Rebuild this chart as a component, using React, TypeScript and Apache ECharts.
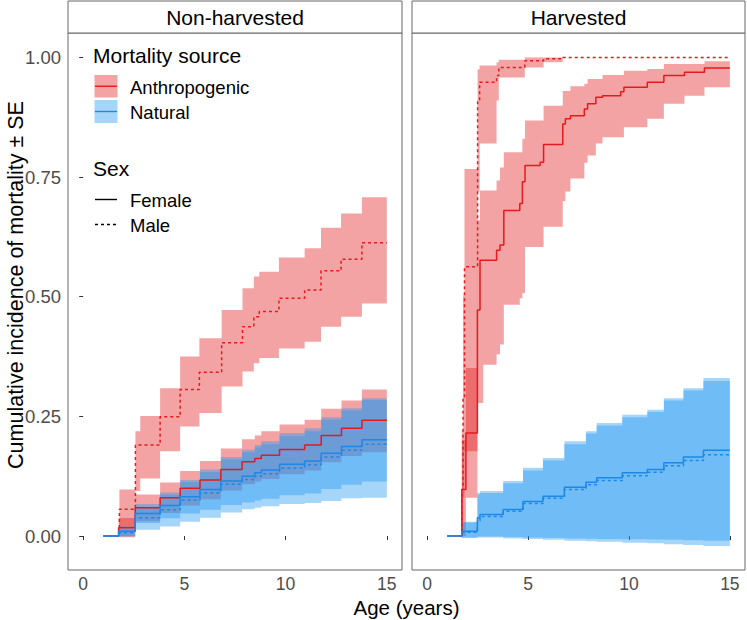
import React, { useEffect, useRef } from "react";
import * as echarts from "echarts";

// ---------- labels ----------
const panelNames = ["Non-harvested", "Harvested"];
const xTicks = [0, 5, 10, 15];
const yTicks = [0, 0.25, 0.5, 0.75, 1.0];
const xTitle = "Age (years)";
const yTitle = "Cumulative incidence of mortality ± SE";
const sourceTitle = "Mortality source";
const sourceNames = ["Anthropogenic", "Natural"];
const sexTitle = "Sex";
const sexNames = ["Female", "Male"];

// ---------- Non-harvested ----------
const nhAnthF_t = [1.0, 1.75, 2.57, 3.8, 4.79, 5.77, 6.8, 7.85, 8.48, 8.8, 9.7, 10.94, 11.76, 12.76, 13.77, 15.0];
const nhAnthF_est = [0, 0.0175, 0.059, 0.08, 0.1, 0.117, 0.139, 0.155, 0.162, 0.169, 0.181, 0.19, 0.21, 0.225, 0.242, 0.242];
const nhAnthF_lo = [0, -0.0025, 0.031, 0.048, 0.064, 0.077, 0.095, 0.108, 0.114, 0.119, 0.129, 0.137, 0.154, 0.167, 0.175, 0.175];
const nhAnthF_hi = [0, 0.0375, 0.087, 0.112, 0.136, 0.157, 0.183, 0.202, 0.21, 0.219, 0.233, 0.243, 0.266, 0.283, 0.306, 0.306];

const nhAnthM_t = [1.0, 1.79, 2.58, 2.82, 3.8, 4.79, 5.74, 6.84, 7.87, 8.43, 8.7, 9.67, 10.94, 11.75, 12.74, 13.77, 15.0];
const nhAnthM_est = [0, 0.056, 0.19, 0.19, 0.249, 0.306, 0.342, 0.404, 0.4375, 0.458, 0.469, 0.497, 0.514, 0.554, 0.5785, 0.613, 0.613];
const nhAnthM_lo = [0, 0.018, 0.094, 0.12, 0.177, 0.229, 0.257, 0.3125, 0.344, 0.361, 0.372, 0.392, 0.406, 0.4375, 0.458, 0.486, 0.486];
const nhAnthM_hi = [0, 0.097, 0.219, 0.251, 0.309, 0.375, 0.413, 0.472, 0.5175, 0.542, 0.552, 0.582, 0.601, 0.644, 0.674, 0.708, 0.708];

const nhNatF_t = [1.0, 1.75, 2.57, 3.8, 4.79, 5.77, 6.8, 7.85, 8.48, 8.8, 9.7, 10.94, 11.76, 12.76, 13.77, 15.0];
const nhNatF_est = [0, 0.01, 0.047, 0.064, 0.082, 0.097, 0.115, 0.125, 0.132, 0.138, 0.15, 0.157, 0.173, 0.187, 0.201, 0.201];
const nhNatF_lo = [0, 0.0, 0.027, 0.037, 0.047, 0.055, 0.065, 0.07, 0.074, 0.078, 0.085, 0.089, 0.098, 0.107, 0.114, 0.114];
const nhNatF_hi = [0, 0.02, 0.067, 0.091, 0.117, 0.139, 0.165, 0.18, 0.19, 0.198, 0.215, 0.225, 0.248, 0.267, 0.288, 0.288];

const nhNatM_t = [1.0, 1.75, 2.57, 3.8, 4.79, 5.77, 6.8, 7.85, 8.48, 8.8, 9.7, 10.94, 11.76, 12.76, 13.77, 15.0];
const nhNatM_est = [0, 0.007, 0.038, 0.055, 0.075, 0.09, 0.108, 0.118, 0.125, 0.13, 0.142, 0.149, 0.165, 0.179, 0.192, 0.192];
const nhNatM_lo = [0, -0.001, 0.013, 0.02, 0.03, 0.038, 0.049, 0.056, 0.059, 0.062, 0.067, 0.069, 0.073, 0.079, 0.08, 0.08];
const nhNatM_hi = [0, 0.015, 0.061, 0.086, 0.113, 0.134, 0.16, 0.175, 0.185, 0.192, 0.209, 0.219, 0.243, 0.262, 0.284, 0.284];

// ---------- Harvested ----------
const hAnthF_t = [1.0, 1.72, 1.92, 2.49, 2.62, 2.78, 3.44, 3.61, 3.8, 4.59, 4.72, 4.85, 5.6, 5.77, 6.72, 6.85, 7.1, 7.79, 7.95, 8.36, 8.69, 9.59, 9.75, 10.91, 11.73, 12.75, 13.74, 15.0];
const hAnthF_est = [0, 0.097, 0.215, 0.472, 0.576, 0.576, 0.597, 0.608, 0.68, 0.695, 0.74, 0.774, 0.781, 0.818, 0.861, 0.872, 0.878, 0.892, 0.903, 0.917, 0.92, 0.928, 0.9375, 0.948, 0.962, 0.969, 0.978, 0.978];
const hAnthF_lo = [0, 0.0, 0.08, 0.278, 0.278, 0.358, 0.38, 0.4, 0.483, 0.497, 0.508, 0.604, 0.604, 0.646, 0.7, 0.72, 0.747, 0.78, 0.795, 0.82, 0.833, 0.833, 0.854, 0.872, 0.903, 0.92, 0.9375, 0.9375];
const hAnthF_hi = [0, 0.2, 0.351, 0.66, 0.722, 0.722, 0.743, 0.77, 0.802, 0.802, 0.83, 0.868, 0.868, 0.899, 0.93, 0.93, 0.94, 0.945, 0.955, 0.955, 0.963, 0.963, 0.972, 0.976, 0.986, 0.986, 0.992, 0.992];

const hAnthM_t = [1.0, 1.72, 1.78, 1.85, 2.5, 2.6, 3.44, 3.55, 4.84, 5.77, 6.72, 15.0];
const hAnthM_est = [0, 0.097, 0.29, 0.5625, 0.91, 0.948, 0.962, 0.979, 0.993, 0.997, 1.0, 1.0];
const hAnthM_lo = [0, 0.0, 0.08, 0.177, 0.72, 0.82, 0.91, 0.958, 0.979, 0.99, 1.0, 1.0];
const hAnthM_hi = [0, 0.22, 0.503, 0.767, 0.975, 0.983, 0.99, 0.995, 1.0, 1.0, 1.0, 1.0];

const hNatF_t = [1.0, 1.72, 2.49, 2.62, 3.77, 4.75, 5.74, 6.8, 7.87, 8.4, 9.67, 10.91, 11.73, 12.7, 13.69, 15.0];
const hNatF_est = [0, 0.01, 0.038, 0.045, 0.0556, 0.072, 0.083, 0.102, 0.1125, 0.1215, 0.132, 0.139, 0.153, 0.165, 0.179, 0.179];
const hNatF_lo = [0, -0.003, -0.001, -0.001, -0.002, -0.003, -0.004, -0.005, -0.0055, -0.006, -0.007, -0.0075, -0.008, -0.009, -0.01, -0.01];
const hNatF_hi = [0, 0.03, 0.09, 0.094, 0.115, 0.1425, 0.163, 0.198, 0.219, 0.236, 0.2535, 0.264, 0.288, 0.309, 0.33, 0.33];

const hNatM_t = [1.0, 1.72, 2.49, 2.62, 3.77, 4.75, 5.74, 6.8, 7.87, 8.4, 9.67, 10.91, 11.73, 12.7, 13.69, 15.0];
const hNatM_est = [0, 0.008, 0.032, 0.041, 0.052, 0.068, 0.079, 0.097, 0.107, 0.116, 0.126, 0.133, 0.147, 0.158, 0.17, 0.17];
const hNatM_lo = [0, -0.004, -0.003, -0.003, -0.005, -0.006, -0.008, -0.01, -0.011, -0.012, -0.014, -0.015, -0.017, -0.019, -0.021, -0.021];
const hNatM_hi = [0, 0.028, 0.086, 0.09, 0.11, 0.137, 0.158, 0.192, 0.214, 0.231, 0.248, 0.259, 0.283, 0.304, 0.324, 0.324];

// ---------- styling ----------
const RED = "#E41A1C";
const BLUE = "#1E88E5";
const RED_FILL = "rgba(228,26,28,0.4)";
const BLUE_FILL = "rgba(33,150,243,0.4)";
const FONT = "'Liberation Sans', Arial, Helvetica, sans-serif";
const BORDER = "#666666";
const DASH = [3, 3];

type Curve = { panel: number; t: number[]; est: number[]; lo: number[]; hi: number[]; line: string; fill: string; dashed: boolean; name: string };

const curves: Curve[] = [
  { panel: 0, t: nhAnthF_t, est: nhAnthF_est, lo: nhAnthF_lo, hi: nhAnthF_hi, line: RED, fill: RED_FILL, dashed: false, name: "nh-anth-f" },
  { panel: 0, t: nhAnthM_t, est: nhAnthM_est, lo: nhAnthM_lo, hi: nhAnthM_hi, line: RED, fill: RED_FILL, dashed: true, name: "nh-anth-m" },
  { panel: 0, t: nhNatF_t, est: nhNatF_est, lo: nhNatF_lo, hi: nhNatF_hi, line: BLUE, fill: BLUE_FILL, dashed: false, name: "nh-nat-f" },
  { panel: 0, t: nhNatM_t, est: nhNatM_est, lo: nhNatM_lo, hi: nhNatM_hi, line: BLUE, fill: BLUE_FILL, dashed: true, name: "nh-nat-m" },
  { panel: 1, t: hAnthF_t, est: hAnthF_est, lo: hAnthF_lo, hi: hAnthF_hi, line: RED, fill: RED_FILL, dashed: false, name: "h-anth-f" },
  { panel: 1, t: hAnthM_t, est: hAnthM_est, lo: hAnthM_lo, hi: hAnthM_hi, line: RED, fill: RED_FILL, dashed: true, name: "h-anth-m" },
  { panel: 1, t: hNatF_t, est: hNatF_est, lo: hNatF_lo, hi: hNatF_hi, line: BLUE, fill: BLUE_FILL, dashed: false, name: "h-nat-f" },
  { panel: 1, t: hNatM_t, est: hNatM_est, lo: hNatM_lo, hi: hNatM_hi, line: BLUE, fill: BLUE_FILL, dashed: true, name: "h-nat-m" },
];

function ribbonSeries(c: Curve) {
  return {
    type: "custom",
    name: c.name + "-ribbon",
    xAxisIndex: c.panel,
    yAxisIndex: c.panel,
    silent: true,
    clip: true,
    encode: { x: 0, y: [1, 2] },
    data: c.t.map((t, i) => [t, c.lo[i], c.hi[i]]),
    renderItem: (params: any, api: any) => {
      if (params.dataIndex !== 0) return null;
      const pts: number[][] = [];
      const n = c.t.length;
      for (let i = 0; i < n - 1; i++) {
        pts.push(api.coord([c.t[i], c.hi[i]]));
        pts.push(api.coord([c.t[i + 1], c.hi[i]]));
      }
      for (let i = n - 2; i >= 0; i--) {
        pts.push(api.coord([c.t[i + 1], c.lo[i]]));
        pts.push(api.coord([c.t[i], c.lo[i]]));
      }
      return { type: "polygon", shape: { points: pts }, style: { fill: c.fill, stroke: null } };
    },
  };
}

function lineSeries(c: Curve) {
  return {
    type: "line",
    name: c.name,
    xAxisIndex: c.panel,
    yAxisIndex: c.panel,
    step: "end",
    symbol: "none",
    silent: true,
    data: c.t.map((t, i) => [t, c.est[i]]),
    lineStyle: { color: c.line, width: 1.5, type: c.dashed ? DASH : "solid" },
  };
}

const G = [
  { left: 68, top: 33, width: 334, height: 537 },
  { left: 412, top: 33, width: 333, height: 537 },
];

export default function App() {
  const ref = useRef<HTMLDivElement>(null);
  useEffect(() => {
    if (!ref.current) return;
    const chart = echarts.init(ref.current, null, { renderer: "svg" });
    const grids = G.map((g) => ({ ...g, show: true, borderColor: BORDER, borderWidth: 1, backgroundColor: "transparent" }));
    const xAxes = G.map((_, i) => ({
      type: "value",
      gridIndex: i,
      min: -0.75,
      max: 15.75,
      splitLine: { show: false },
      axisLine: { show: false },
      axisTick: { show: true, length: 4, customValues: xTicks, lineStyle: { color: "#333333", width: 1 } },
      axisLabel: { show: true, customValues: xTicks, color: "#4D4D4D", fontSize: 17.5, fontFamily: FONT, margin: 5 },
    }));
    const yAxes = G.map((_, i) => ({
      type: "value",
      gridIndex: i,
      min: -0.071,
      max: 1.051,
      splitLine: { show: false },
      axisLine: { show: false },
      axisTick: { show: i === 0, length: 4, customValues: yTicks, lineStyle: { color: "#333333", width: 1 } },
      axisLabel: {
        show: i === 0,
        customValues: yTicks,
        color: "#4D4D4D",
        fontSize: 18.5,
        fontFamily: FONT,
        margin: 7,
        formatter: (v: number) => v.toFixed(2),
      },
    }));
    const series: any[] = [];
    curves.forEach((c) => series.push(ribbonSeries(c)));
    curves.forEach((c) => series.push(lineSeries(c)));

    const txt = (x: number, y: number, text: string, size: number, align = "left", extra: any = {}) => ({
      type: "text",
      x,
      y,
      silent: true,
      ...extra,
      style: { text, fill: "#000000", font: `${size}px ${FONT}`, textAlign: align, textVerticalAlign: "middle" },
    });

    const graphic: any[] = [];
    G.forEach((g, i) => {
      graphic.push({
        type: "rect",
        silent: true,
        shape: { x: g.left, y: 1, width: g.width, height: 32 },
        style: { fill: "#ffffff", stroke: BORDER, lineWidth: 1 },
      });
      graphic.push(txt(g.left + g.width / 2, 17.5, panelNames[i], 21, "center"));
    });
    graphic.push(txt(406.5, 607, xTitle, 20.5, "center"));
    graphic.push(txt(16, 285, yTitle, 21.5, "center", { rotation: Math.PI / 2 }));
    // legend: mortality source
    graphic.push(txt(93, 55, sourceTitle, 21));
    graphic.push({ type: "rect", silent: true, shape: { x: 94.5, y: 75, width: 23, height: 22.5 }, style: { fill: RED_FILL } });
    graphic.push({ type: "line", silent: true, shape: { x1: 95, y1: 86.25, x2: 117, y2: 86.25 }, style: { stroke: RED, lineWidth: 1.4 } });
    graphic.push(txt(130, 87, sourceNames[0], 18.5));
    graphic.push({ type: "rect", silent: true, shape: { x: 94.5, y: 100, width: 23, height: 23 }, style: { fill: BLUE_FILL } });
    graphic.push({ type: "line", silent: true, shape: { x1: 95, y1: 111.5, x2: 117, y2: 111.5 }, style: { stroke: BLUE, lineWidth: 1.4 } });
    graphic.push(txt(130, 112, sourceNames[1], 18.5));
    // legend: sex
    graphic.push(txt(93, 168, sexTitle, 21));
    graphic.push({ type: "line", silent: true, shape: { x1: 95, y1: 199.5, x2: 117, y2: 199.5 }, style: { stroke: "#000000", lineWidth: 1.4 } });
    graphic.push(txt(130, 200, sexNames[0], 18.5));
    graphic.push({ type: "line", silent: true, shape: { x1: 95, y1: 224.5, x2: 117, y2: 224.5 }, style: { stroke: "#000000", lineWidth: 1.4, lineDash: DASH } });
    graphic.push(txt(130, 225, sexNames[1], 18.5));

    chart.setOption({
      animation: false,
      backgroundColor: "#ffffff",
      textStyle: { fontFamily: FONT },
      grid: grids,
      xAxis: xAxes,
      yAxis: yAxes,
      series,
      graphic,
    });
    return () => chart.dispose();
  }, []);
  return <div ref={ref} style={{ position: "fixed", left: 0, top: 0, width: 747, height: 620 }} />;
}
